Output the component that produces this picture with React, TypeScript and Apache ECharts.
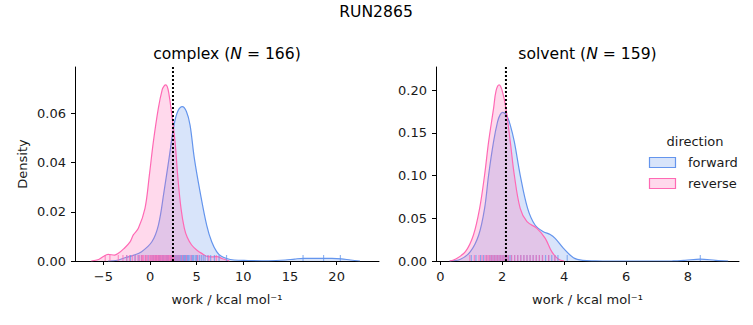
import React, { useEffect, useRef } from "react";
import * as echarts from "echarts";

const FWD = "#6495ED";
const REV = "#FF69B4";

const complexFwdX = [-4.5, -3.5, -2.7, -1.8, -0.9, 0.2, 0.9, 1.5, 2.04, 2.57, 3.0, 3.46, 3.9, 4.29, 4.75, 5.36, 6.07, 6.61, 7.14, 7.6, 8.2, 9, 10.5, 12, 13.5, 14.5, 15.5, 16.5, 17.5, 18.5, 19.5, 20.5, 21.5, 22.5];
const complexFwdY = [0, 0.0003, 0.0013, 0.0023, 0.0038, 0.0078, 0.0146, 0.0282, 0.0417, 0.0552, 0.061, 0.0627, 0.0607, 0.0552, 0.0417, 0.0282, 0.0146, 0.0078, 0.0038, 0.002, 0.001, 0.0004, 0.0002, 0.0001, 0.0002, 0.0004, 0.0008, 0.0011, 0.0011, 0.0011, 0.0011, 0.0009, 0.0004, 0];
const complexRevX = [-6.3, -5.5, -5.0, -4.5, -3.8, -3.4, -2.8, -2.14, -1.79, -1.25, -0.54, -0.07, 0.36, 0.89, 1.3, 1.5, 1.68, 1.85, 2.0, 2.25, 2.68, 2.96, 3.32, 3.68, 4.0, 4.46, 5.0, 5.54, 6.2, 6.8, 7.2, 7.7, 8.5];
const complexRevY = [0, 0.0006, 0.0018, 0.0027, 0.0024, 0.0031, 0.0050, 0.0078, 0.0106, 0.0133, 0.0214, 0.0349, 0.0485, 0.062, 0.0695, 0.071, 0.0715, 0.0708, 0.0685, 0.062, 0.0485, 0.0349, 0.0214, 0.0133, 0.0095, 0.0065, 0.0045, 0.0031, 0.0018, 0.0017, 0.0018, 0.001, 0];

const solventFwdX = [0.3, 0.65, 0.97, 1.24, 1.43, 1.56, 1.72, 1.85, 1.93, 2.01, 2.08, 2.15, 2.26, 2.39, 2.58, 2.82, 3.06, 3.33, 3.55, 3.71, 3.98, 4.3, 4.6, 5.0, 5.5, 6.5, 7.5, 7.9, 8.4, 8.9, 9.3];
const solventFwdY = [0, 0.002, 0.0109, 0.0304, 0.0616, 0.1006, 0.1396, 0.163, 0.171, 0.174, 0.1728, 0.17, 0.159, 0.1396, 0.1006, 0.0616, 0.0421, 0.0343, 0.031, 0.0265, 0.0148, 0.0039, 0.0008, 0.0002, 0, 0, 0.0001, 0.0008, 0.0023, 0.0008, 0];
const solventRevX = [0.3, 0.48, 0.81, 1.07, 1.27, 1.43, 1.56, 1.72, 1.8, 1.9, 2.0, 2.12, 2.26, 2.39, 2.58, 2.8, 3.12, 3.39, 3.6, 3.82, 4.0];
const solventRevY = [0, 0.002, 0.0109, 0.0304, 0.0616, 0.1006, 0.1396, 0.1786, 0.199, 0.206, 0.199, 0.1786, 0.1396, 0.1006, 0.0616, 0.046, 0.0382, 0.0265, 0.0109, 0.002, 0];

const complexFwdRug = [-2.5, -2.1, -1.6, -1.2, -0.9, -0.5, -0.2, 0.1, 0.3, 0.4, 0.6, 0.7, 0.9, 1.0, 1.1, 1.3, 1.4, 1.5, 1.7, 1.8, 1.9, 2.0, 2.2, 2.3, 2.4, 2.6, 2.7, 2.8, 2.9, 3.0, 3.1, 3.2, 3.3, 3.4, 3.5, 3.6, 3.7, 3.8, 3.9, 4.0, 4.1, 4.2, 4.4, 4.5, 4.6, 4.7, 4.9, 5.0, 5.1, 5.3, 5.5, 5.7, 5.9, 6.2, 6.5, 6.9, 7.4, 8.2, 16.4, 18.6, 20.4];
const complexRevRug = [-4.8, -4.3, -3.4, -2.9, -2.5, -2.2, -1.9, -1.6, -1.3, -1.1, -0.9, -0.8, -0.7, -0.5, -0.4, -0.3, -0.1, 0.0, 0.1, 0.2, 0.3, 0.4, 0.5, 0.6, 0.7, 0.8, 0.9, 1.0, 1.1, 1.2, 1.3, 1.4, 1.5, 1.6, 1.7, 1.8, 1.9, 2.0, 2.1, 2.2, 2.3, 2.4, 2.5, 2.6, 2.8, 3.0, 3.2, 3.5, 3.9, 4.4, 5.1, 6.3, 7.1];
const solventFwdRug = [1.0, 1.15, 1.3, 1.4, 1.5, 1.6, 1.65, 1.7, 1.75, 1.8, 1.85, 1.9, 1.95, 2.0, 2.05, 2.1, 2.15, 2.2, 2.25, 2.3, 2.4, 2.5, 2.6, 2.7, 2.8, 2.9, 3.0, 3.1, 3.2, 3.3, 3.4, 3.5, 3.6, 3.7, 3.8, 4.1, 8.4];
const solventRevRug = [0.95, 1.1, 1.25, 1.35, 1.45, 1.5, 1.55, 1.6, 1.65, 1.7, 1.75, 1.8, 1.85, 1.9, 1.95, 2.0, 2.05, 2.1, 2.15, 2.2, 2.3, 2.4, 2.5, 2.6, 2.7, 2.8, 2.9, 3.0, 3.1, 3.2, 3.3, 3.5, 3.7];

const complexMarker = 2.46;
const solventMarker = 2.12;

const complexXTicks = [-5, 0, 5, 10, 15, 20];
const complexYTicks = [0, 0.02, 0.04, 0.06];
const solventXTicks = [0, 2, 4, 6, 8];
const solventYTicks = [0, 0.05, 0.1, 0.15, 0.2];

const complexXRange = [-8.04, 24.54];
const complexYMax = 0.0788;
const solventXRange = [-0.14, 9.65];
const solventYMax = 0.227;

const FONT = "DejaVu Sans";
const TXT = "#1a1a1a";

const fmtX = (v: number) => (v < 0 ? "\u2212" + Math.abs(v) : String(v));

function zip(xs: number[], ys: number[]) {
  return xs.map((x, i) => [x, ys[i]]);
}

function xAxisCfg(idx: number, range: number[], ticks: number[]) {
  return {
    type: "value",
    gridIndex: idx,
    min: range[0],
    max: range[1],
    axisLine: { show: true, onZero: false, lineStyle: { color: "#000", width: 1 } },
    axisTick: { show: true, length: 4, customValues: ticks, lineStyle: { color: "#000" } },
    axisLabel: { customValues: ticks, formatter: fmtX, fontSize: 13, color: TXT, fontFamily: FONT, margin: 9 },
    splitLine: { show: false },
  };
}

function yAxisCfg(idx: number, max: number, ticks: number[]) {
  return {
    type: "value",
    gridIndex: idx,
    min: 0,
    max,
    axisLine: { show: true, onZero: false, lineStyle: { color: "#000", width: 1 } },
    axisTick: { show: true, length: 4, customValues: ticks, lineStyle: { color: "#000" } },
    axisLabel: { customValues: ticks, formatter: (v: number) => v.toFixed(2), fontSize: 13, color: TXT, fontFamily: FONT, margin: 9 },
    splitLine: { show: false },
  };
}

function kde(idx: number, data: number[][], color: string, z: number) {
  return {
    type: "line",
    xAxisIndex: idx,
    yAxisIndex: idx,
    data,
    smooth: 0.35,
    showSymbol: false,
    symbol: "none",
    lineStyle: { color, width: 1.2 },
    areaStyle: { color, opacity: 0.25 },
    z,
  };
}

function rug(idx: number, vals: number[], color: string) {
  return {
    type: "scatter",
    xAxisIndex: idx,
    yAxisIndex: idx,
    data: vals.map((v) => [v, 0]),
    symbol: "rect",
    symbolSize: [1.2, 6],
    symbolOffset: [0, -3],
    itemStyle: { color, opacity: 0.7 },
    z: 5,
    clip: false,
  };
}

function marker(idx: number, x: number, ymax: number) {
  return {
    type: "line",
    xAxisIndex: idx,
    yAxisIndex: idx,
    data: [[x, 0], [x, ymax]],
    showSymbol: false,
    symbol: "none",
    lineStyle: { color: "#000", width: 2, type: [2, 2] },
    z: 6,
  };
}

function titleText(x: number, label: string, n: number) {
  return {
    type: "text",
    x,
    y: 54,
    style: {
      text: `{a|${label} (}{i|N}{a| = ${n})}`,
      align: "center",
      verticalAlign: "middle",
      rich: {
        a: { fontSize: 15.6, fontFamily: FONT, fill: "#000", color: "#000" },
        i: { fontSize: 15.6, fontFamily: FONT, fontStyle: "italic", fill: "#000", color: "#000" },
      },
    },
  };
}

export default function App() {
  const ref = useRef<HTMLDivElement>(null);
  useEffect(() => {
    document.body.style.margin = "0";
    const chart = echarts.init(ref.current!, null, { renderer: "svg" });
    const option = {
      animation: false,
      textStyle: { fontFamily: FONT },
      grid: [
        { left: 75, top: 67, width: 304, height: 194 },
        { left: 436, top: 67, width: 303, height: 194 },
      ],
      xAxis: [xAxisCfg(0, complexXRange, complexXTicks), xAxisCfg(1, solventXRange, solventXTicks)],
      yAxis: [yAxisCfg(0, complexYMax, complexYTicks), yAxisCfg(1, solventYMax, solventYTicks)],
      series: [
        kde(0, zip(complexFwdX, complexFwdY), FWD, 2),
        kde(0, zip(complexRevX, complexRevY), REV, 3),
        rug(0, complexFwdRug, FWD),
        rug(0, complexRevRug, REV),
        marker(0, complexMarker, complexYMax),
        kde(1, zip(solventFwdX, solventFwdY), FWD, 2),
        kde(1, zip(solventRevX, solventRevY), REV, 3),
        rug(1, solventFwdRug, FWD),
        rug(1, solventRevRug, REV),
        marker(1, solventMarker, solventYMax),
      ],
      graphic: [
        { type: "text", x: 376, y: 12, style: { text: "RUN2865", fontSize: 15.6, fontFamily: FONT, fill: "#000", align: "center", verticalAlign: "middle" } },
        titleText(227, "complex", 166),
        titleText(587.5, "solvent", 159),
        { type: "text", x: 22, y: 164, rotation: Math.PI / 2, style: { text: "Density", fontSize: 13, fontFamily: FONT, fill: TXT, align: "center", verticalAlign: "middle" } },
        { type: "text", x: 227, y: 299, style: { text: "work / kcal mol\u207B\u00B9", fontSize: 13, fontFamily: FONT, fill: TXT, align: "center", verticalAlign: "middle" } },
        { type: "text", x: 587.5, y: 299, style: { text: "work / kcal mol\u207B\u00B9", fontSize: 13, fontFamily: FONT, fill: TXT, align: "center", verticalAlign: "middle" } },
        { type: "text", x: 695, y: 141, style: { text: "direction", fontSize: 13, fontFamily: FONT, fill: TXT, align: "center", verticalAlign: "middle" } },
        { type: "rect", shape: { x: 649.5, y: 157.5, width: 26, height: 10 }, style: { fill: "rgba(100,149,237,0.25)", stroke: FWD, lineWidth: 1.2 } },
        { type: "rect", shape: { x: 649.5, y: 178.5, width: 26, height: 10 }, style: { fill: "rgba(255,105,180,0.25)", stroke: REV, lineWidth: 1.2 } },
        { type: "text", x: 688, y: 162, style: { text: "forward", fontSize: 13, fontFamily: FONT, fill: TXT, align: "left", verticalAlign: "middle" } },
        { type: "text", x: 688, y: 183, style: { text: "reverse", fontSize: 13, fontFamily: FONT, fill: TXT, align: "left", verticalAlign: "middle" } },
      ],
    };
    chart.setOption(option as any);
    return () => chart.dispose();
  }, []);
  return <div ref={ref} style={{ width: 753, height: 325 }} />;
}
